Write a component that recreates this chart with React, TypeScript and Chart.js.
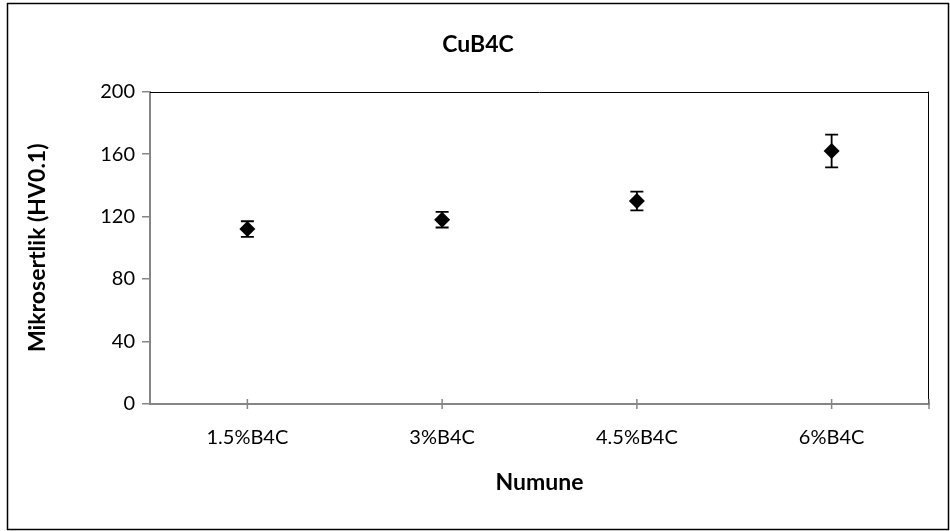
import React, { useEffect, useRef } from "react";
import { Chart, registerables } from "chart.js";

Chart.register(...registerables);

const categories = ["1.5%B4C", "3%B4C", "4.5%B4C", "6%B4C"];
const hardness = [112, 118, 130, 162];
const errors = [5, 5, 6, 10.5];
const yTicks = [0, 40, 80, 120, 160, 200];

const FONT = "Lato, 'Liberation Sans', sans-serif";

const decorPlugin = {
  id: "decor",
  beforeDatasetsDraw(chart: any) {
    const ctx = chart.ctx;
    const xs = chart.scales.x;
    const ys = chart.scales.y;
    ctx.save();
    ctx.strokeStyle = "#000";
    ctx.lineWidth = 1.8;
    hardness.forEach((v, i) => {
      const x = xs.getPixelForValue(i);
      const top = ys.getPixelForValue(v + errors[i]);
      const bot = ys.getPixelForValue(v - errors[i]);
      ctx.beginPath();
      ctx.moveTo(x, top);
      ctx.lineTo(x, bot);
      ctx.moveTo(x - 6.5, top);
      ctx.lineTo(x + 6.5, top);
      ctx.moveTo(x - 6.5, bot);
      ctx.lineTo(x + 6.5, bot);
      ctx.stroke();
    });
    ctx.restore();
  },
  afterDraw(chart: any) {
    const ctx = chart.ctx;
    const a = chart.chartArea;
    const xs = chart.scales.x;
    ctx.save();
    ctx.strokeStyle = "#000";
    ctx.lineWidth = 1;
    ctx.beginPath();
    ctx.moveTo(a.left, Math.round(a.top) + 0.5);
    ctx.lineTo(a.right, Math.round(a.top) + 0.5);
    ctx.moveTo(Math.round(a.right) - 0.5, a.top);
    ctx.lineTo(Math.round(a.right) - 0.5, a.bottom);
    ctx.stroke();
    ctx.strokeStyle = "#868686";
    ctx.lineWidth = 1.5;
    ctx.beginPath();
    const marks = categories.map((_, i) => xs.getPixelForValue(i));
    marks.push(a.right);
    marks.forEach((x) => {
      ctx.moveTo(x, a.bottom - 5);
      ctx.lineTo(x, a.bottom + 5);
    });
    ctx.stroke();
    ctx.strokeStyle = "#000";
    ctx.lineWidth = 1.5;
    ctx.strokeRect(7.5, 3.5, 941, 526);
    ctx.restore();
  },
};

export default function App() {
  const ref = useRef<HTMLCanvasElement>(null);
  useEffect(() => {
    document.body.style.margin = "0";
    const chart = new Chart(ref.current as HTMLCanvasElement, {
      type: "line",
      data: {
        labels: categories,
        datasets: [
          {
            data: hardness,
            showLine: false,
            pointStyle: "rectRot",
            pointRadius: 8,
            pointBackgroundColor: "#000",
            pointBorderColor: "#000",
            pointBorderWidth: 0,
          },
        ],
      },
      options: {
        animation: false,
        responsive: false,
        layout: { padding: { left: 27, right: 21, top: 0, bottom: 0 } },
        plugins: {
          legend: { display: false },
          tooltip: { enabled: false },
          title: {
            display: true,
            text: "CuB4C",
            color: "#000",
            font: { family: FONT, size: 23, weight: "bold", lineHeight: 1.2 },
            padding: { top: 31, bottom: 33 },
          },
        },
        scales: {
          x: {
            type: "category",
            offset: true,
            grid: { display: true, drawOnChartArea: false, drawTicks: false, offset: false, color: "#868686" },
            border: { display: true, color: "#868686", width: 2 },
            ticks: { color: "#000", padding: 22, font: { family: FONT, size: 20 } },
            title: {
              display: true,
              text: "Numune",
              color: "#000",
              font: { family: FONT, size: 23, weight: "bold", lineHeight: 1 },
              padding: { top: 0, bottom: 37 },
            },
            afterFit(scale: any) {
              scale.height = 127;
            },
          },
          y: {
            min: 0,
            max: 200,
            afterBuildTicks(scale: any) {
              scale.ticks = yTicks.map((v) => ({ value: v }));
            },
            grid: { display: true, drawOnChartArea: false, drawTicks: true, tickLength: 8, color: "#868686", lineWidth: 1.5 },
            border: { display: true, color: "#868686", width: 2 },
            ticks: { color: "#000", padding: 7, font: { family: FONT, size: 20 } },
            title: {
              display: true,
              text: "Mikrosertlik (HV0.1)",
              color: "#000",
              font: { family: FONT, size: 23, weight: "bold", lineHeight: 1 },
              padding: { top: -1, bottom: 0 },
            },
            afterFit(scale: any) {
              scale.width = 123;
            },
          },
        },
      },
      plugins: [decorPlugin],
    } as any);
    return () => chart.destroy();
  }, []);
  return (
    <div style={{ width: 950, height: 531 }}>
      <canvas ref={ref} width={950} height={531} style={{ display: "block" }} />
    </div>
  );
}
